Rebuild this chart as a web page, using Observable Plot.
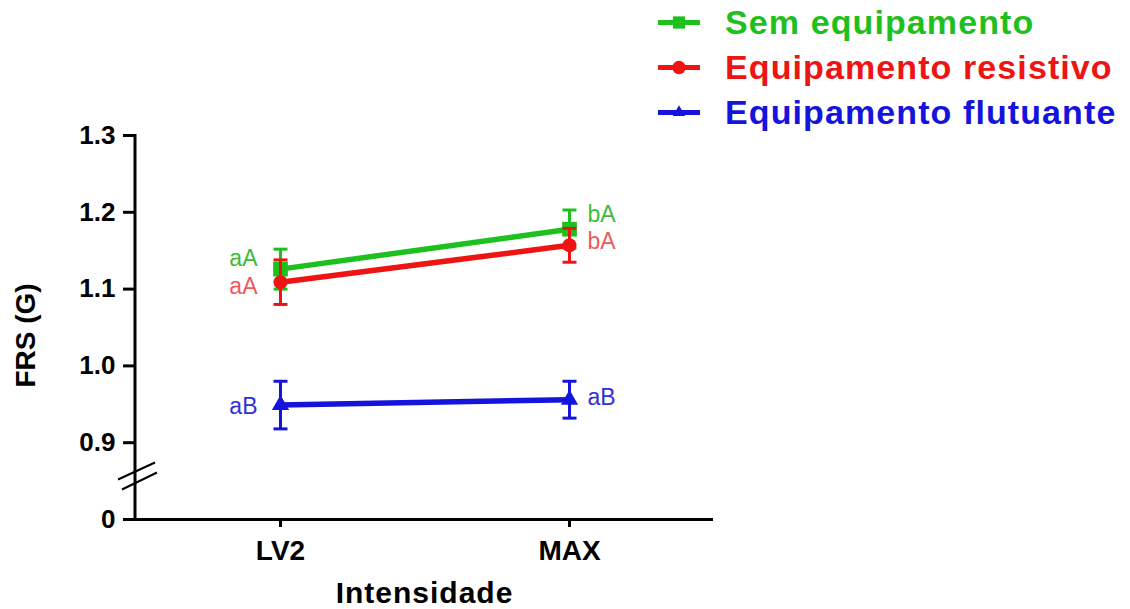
<!DOCTYPE html>
<html><head><meta charset="utf-8">
<script src="https://cdn.jsdelivr.net/npm/d3@7"></script>
<script src="https://cdn.jsdelivr.net/npm/@observablehq/plot@0.6"></script>
<style>
body{margin:0;background:#fff;font-family:"Liberation Sans",Arial,sans-serif}
#wrap{position:relative;width:1130px;height:609px}
#legend{position:absolute;left:658px;top:0}
.row{display:flex;align-items:center;height:45px}
.row span{font-weight:bold;font-size:34px;letter-spacing:1.1px;margin-left:25px;white-space:nowrap}
</style></head><body><div id="wrap"></div>
<script>
// ---- data ----
const intensities = ["LV2", "MAX"];
const seriesNames = ["Sem equipamento", "Equipamento resistivo", "Equipamento flutuante"];
const seriesColors = ["#1ec01e", "#ee1414", "#1414dc"];
const labelColors = ["#3cbc3c", "#ec5a5e", "#3030d4"];
const seriesSymbols = ["square", "circle", "triangle"];
const semMean = [1.126, 1.178];
const semErr = [0.026, 0.025];
const resMean = [1.109, 1.157];
const resErr = [0.029, 0.022];
const fluMean = [0.949, 0.956];
const fluErr = [0.031, 0.024];
const semLetters = ["aA", "bA"];
const resLetters = ["aA", "bA"];
const fluLetters = ["aB", "aB"];
const yTicks = [0.8, 0.9, 1.0, 1.1, 1.2, 1.3];
const yTickLabels = ["0", "0.9", "1.0", "1.1", "1.2", "1.3"];
const axisBreak = 0.856;
const yTitle = "FRS (G)";
const xTitle = "Intensidade";

// ---- table ----
const means = [semMean, resMean, fluMean];
const errs = [semErr, resErr, fluErr];
const letters = [semLetters, resLetters, fluLetters];
const series = seriesNames.map((name, s) => intensities.map((x, i) => ({
  series: name, x, y: means[s][i], lo: means[s][i] - errs[s][i], hi: means[s][i] + errs[s][i], letter: letters[s][i]
})));

// styling
const markerR = [8.3, 7, 6.4];
const labelDy = [[-11, -15], [4, -4], [2, -2]];
const capSymbol = {draw(ctx, size) { const w = Math.sqrt(size / Math.PI); ctx.moveTo(-w, 0); ctx.lineTo(w, 0); }};

const marks = [];
series.forEach((rows, s) => {
  const c = seriesColors[s];
  marks.push(Plot.line(rows, {x: "x", y: "y", stroke: c, strokeWidth: 5.5}));
  marks.push(Plot.ruleX(rows, {x: "x", y1: "lo", y2: "hi", stroke: c, strokeWidth: 3}));
  marks.push(Plot.dot(rows, {x: "x", y: "lo", symbol: capSymbol, r: 7, stroke: c, strokeWidth: 3, fill: "none"}));
  marks.push(Plot.dot(rows, {x: "x", y: "hi", symbol: capSymbol, r: 7, stroke: c, strokeWidth: 3, fill: "none"}));
  marks.push(Plot.dot(rows, {x: "x", y: "y", symbol: seriesSymbols[s], r: markerR[s], fill: c, stroke: "none"}));
});
series.forEach((rows, s) => {
  rows.forEach((d, i) => {
    marks.push(Plot.text([d], {
      x: "x", y: "y", text: "letter", fill: labelColors[s], fontSize: 23,
      textAnchor: i === 0 ? "end" : "start", dx: i === 0 ? -23 : 18, dy: labelDy[s][i]
    }));
  });
});

const plot = Plot.plot({
  width: 1130, height: 609,
  marginLeft: 135, marginRight: 417, marginTop: 135, marginBottom: 90,
  style: {fontFamily: "'Liberation Sans', Arial, sans-serif", color: "black", background: "white"},
  x: {type: "point", domain: intensities, padding: 0.5},
  y: {domain: [0.8, 1.3]},
  marks: [
    Plot.ruleY([0.8], {strokeWidth: 3}),
    Plot.axisY({ticks: yTicks, tickSize: 12, tickPadding: 8, strokeWidth: 3, fontSize: 26, fontWeight: "bold", label: null,
      tickFormat: d => yTickLabels[yTicks.findIndex(t => Math.abs(t - d) < 1e-9)]}),
    Plot.axisX({tickSize: 8, tickPadding: 13, strokeWidth: 3, fontSize: 28, fontWeight: "bold", label: null}),
    Plot.text([yTitle], {frameAnchor: "left", textAnchor: "middle", lineAnchor: "middle", rotate: -90, dx: -109, dy: 8, fontSize: 28, fontWeight: "bold"}),
    Plot.text([xTitle], {frameAnchor: "bottom", textAnchor: "middle", lineAnchor: "middle", dy: 74, fontSize: 30, fontWeight: "bold"}),
    ...marks
  ]
});

const svg = d3.select(plot);
svg.selectAll("text").filter(function() { return this.textContent === xTitle; }).attr("letter-spacing", "1px");
const xs = plot.scale("x"), ys = plot.scale("y");
const x0 = xs.range[0];
svg.append("line").attr("x1", x0).attr("x2", x0)
  .attr("y1", ys.apply(1.3) - 1).attr("y2", ys.apply(0.8) + 1.5)
  .attr("stroke", "black").attr("stroke-width", 3);
const yb = ys.apply(axisBreak);
[[-17, 3.5, 20, -13.5], [-13, 13.5, 22, -3.5]].forEach(([a, b, c, d]) => {
  svg.append("line").attr("x1", x0 + a).attr("y1", yb + b).attr("x2", x0 + c).attr("y2", yb + d)
    .attr("stroke", "black").attr("stroke-width", 2);
});

const wrap = document.getElementById("wrap");
wrap.appendChild(plot);

// legend
const legend = d3.select(wrap).append("div").attr("id", "legend");
seriesNames.forEach((name, s) => {
  const row = legend.append("div").attr("class", "row");
  const ls = row.append("svg").attr("width", 42).attr("height", 45);
  ls.append("line").attr("x1", 0).attr("x2", 42).attr("y1", 22.5).attr("y2", 22.5)
    .attr("stroke", seriesColors[s]).attr("stroke-width", 5);
  const sym = [d3.symbolSquare, d3.symbolCircle, d3.symbolTriangle2][s];
  const size = [150, 140, 110][s];
  ls.append("path").attr("d", d3.symbol(sym, size)()).attr("transform", "translate(21,22.5)")
    .attr("fill", seriesColors[s]);
  row.append("span").style("color", seriesColors[s]).text(name);
});
</script></body></html>
